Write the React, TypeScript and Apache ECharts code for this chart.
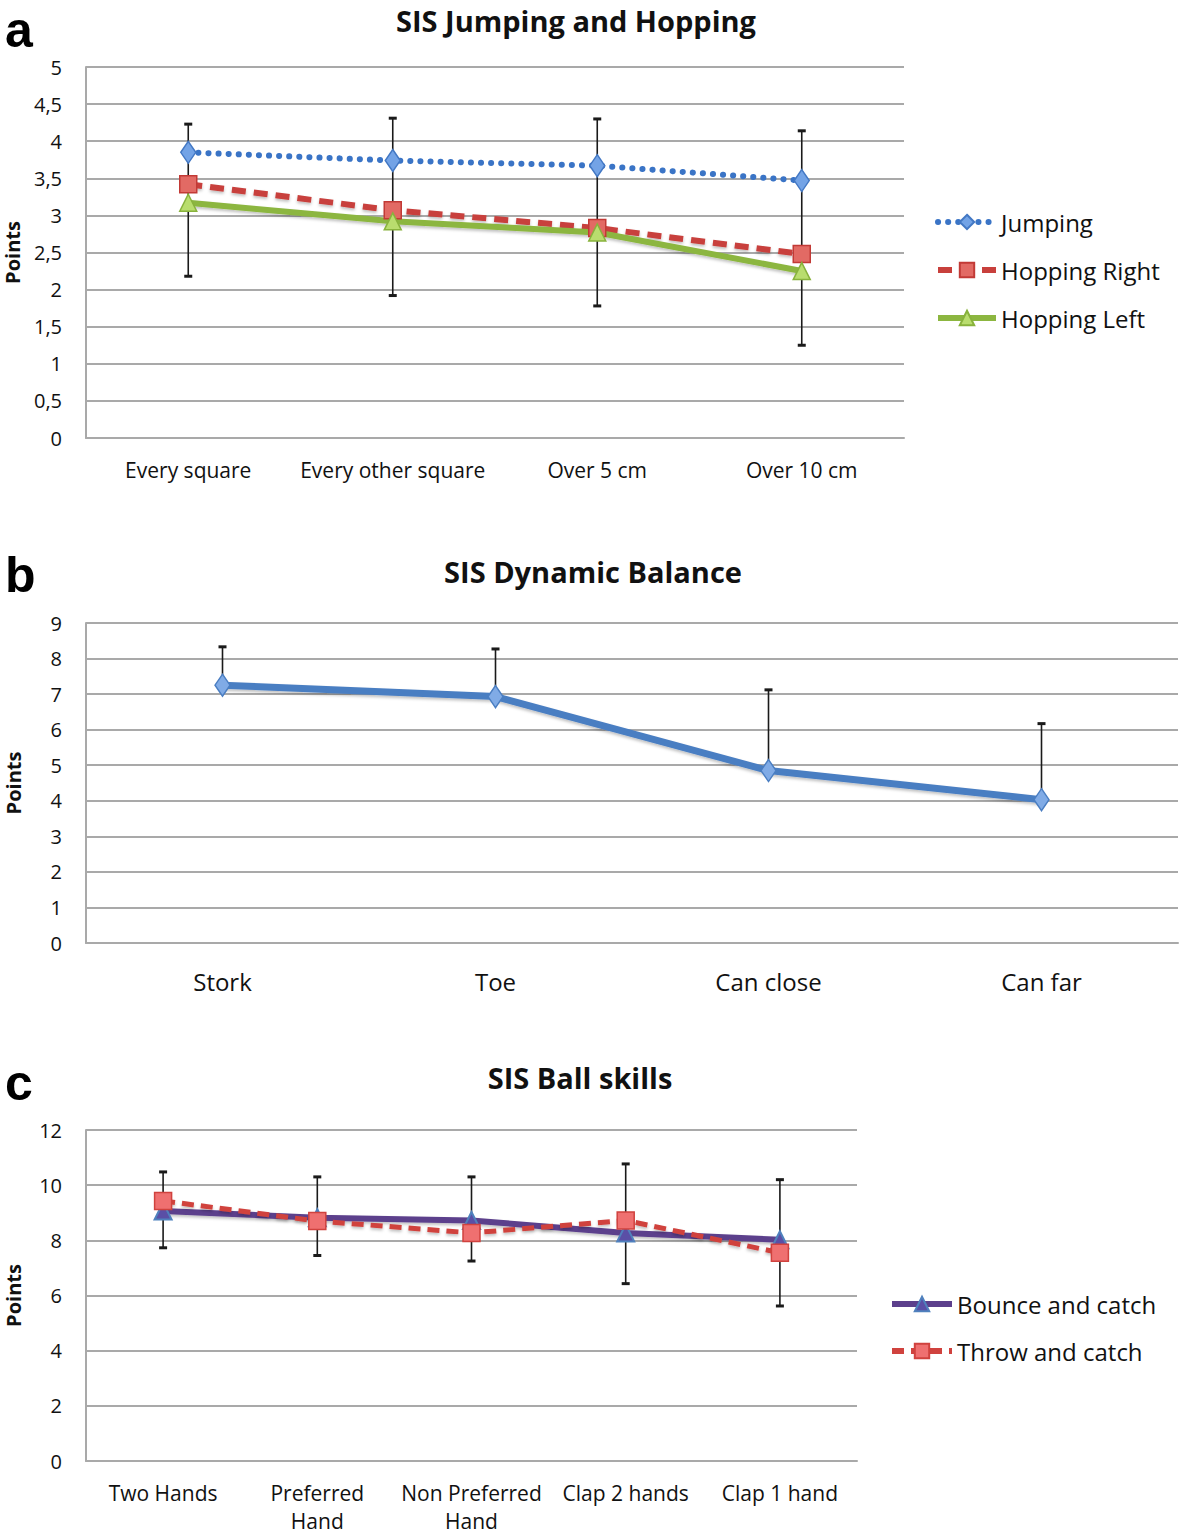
import React, { useEffect, useRef } from "react";
import * as echarts from "echarts";

const catsA = ["Every square", "Every other square", "Over 5 cm", "Over 10 cm"];
const jumping = [3.85, 3.74, 3.67, 3.47];
const hoppingRight = [3.42, 3.07, 2.83, 2.48];
const hoppingLeft = [3.17, 2.92, 2.77, 2.25];
const errLowA = [2.18, 1.92, 1.78, 1.25];
const errHighA = [4.23, 4.31, 4.3, 4.14];

const catsB = ["Stork", "Toe", "Can close", "Can far"];
const balance = [7.25, 6.93, 4.85, 4.03];
const errHighB = [8.33, 8.27, 7.12, 6.17];

const catsC = ["Two Hands", "Preferred\nHand", "Non Preferred\nHand", "Clap 2 hands", "Clap 1 hand"];
const bounce = [9.06, 8.82, 8.72, 8.27, 8.02];
const throwCatch = [9.43, 8.7, 8.27, 8.72, 7.55];
const errLowC = [7.73, 7.45, 7.25, 6.43, 5.62];
const errHighC = [10.48, 10.3, 10.3, 10.77, 10.2];

const FONT = "Open Sans";
const GRID_COLOR = "#a9a9a9";

const comma = (v: number) => String(v).replace(".", ",");

function errSeries(idx: number, lows: number[], highs: number[], capLow: boolean) {
  return {
    type: "custom",
    xAxisIndex: idx,
    yAxisIndex: idx,
    z: 1,
    silent: true,
    data: lows.map((l, k) => [k, l, highs[k]]),
    renderItem: (params: any, api: any) => {
      const x = api.value(0);
      const lo = api.coord([x, api.value(1)]);
      const hi = api.coord([x, api.value(2)]);
      const w = 4;
      const style = { stroke: "#1a1a1a", lineWidth: 1.6 };
      const cap = { stroke: "#1a1a1a", lineWidth: 3 };
      const children: any[] = [
        { type: "line", shape: { x1: lo[0], y1: lo[1], x2: hi[0], y2: hi[1] }, style },
        { type: "line", shape: { x1: hi[0] - w, y1: hi[1], x2: hi[0] + w, y2: hi[1] }, style: cap },
      ];
      if (capLow) {
        children.push({ type: "line", shape: { x1: lo[0] - w, y1: lo[1], x2: lo[0] + w, y2: lo[1] }, style: cap });
      }
      return { type: "group", children };
    },
  };
}

function yAxis(idx: number, max: number, interval: number) {
  return {
    type: "value",
    gridIndex: idx,
    min: 0,
    max,
    interval,
    name: "Points",
    nameLocation: "middle",
    nameGap: 62,
    nameRotate: 90,
    nameTextStyle: { fontFamily: FONT, fontWeight: "bold", fontSize: 20, lineHeight: 22, color: "#111" },
    axisLine: { show: true, lineStyle: { color: GRID_COLOR, width: 2 } },
    axisTick: { show: false },
    axisLabel: { fontFamily: FONT, fontSize: 20, color: "#111", margin: 24, formatter: comma },
    splitLine: { show: true, lineStyle: { color: GRID_COLOR, width: 2 } },
  };
}

function xAxis(idx: number, cats: string[], fontSize: number, margin: number, lineHeight: number) {
  return {
    type: "category",
    gridIndex: idx,
    data: cats,
    boundaryGap: true,
    axisLine: { show: true, lineStyle: { color: GRID_COLOR, width: 2 } },
    axisTick: { show: false },
    axisLabel: { fontFamily: FONT, fontSize, color: "#111", margin, lineHeight, interval: 0 },
  };
}

const shadow = { shadowColor: "rgba(0,0,0,0.25)", shadowBlur: 3, shadowOffsetY: 2 };

const titleStyle = { fontFamily: FONT, fontWeight: "bold", fontSize: 29, lineHeight: 40, color: "#111" };
const letterStyle = { fontFamily: "Liberation Sans", fontWeight: "bold", fontSize: 50, color: "#000", lineHeight: 60 };

export default function App() {
  const ref = useRef<HTMLDivElement>(null);
  useEffect(() => {
    if (!ref.current) return;
    const chart = echarts.init(ref.current, null, { renderer: "svg" });
    const option: any = {
      animation: false,
      backgroundColor: "#fff",
      textStyle: { fontFamily: FONT },
      title: [
        { text: "SIS Jumping and Hopping", left: 576, top: 0, padding: 0, textAlign: "center", textStyle: titleStyle },
        { text: "SIS Dynamic Balance", left: 593, top: 551, padding: 0, textAlign: "center", textStyle: titleStyle },
        { text: "SIS Ball skills", left: 580, top: 1057, padding: 0, textAlign: "center", textStyle: titleStyle },
        { text: "a", left: 5, top: 0, padding: 0, textStyle: letterStyle },
        { text: "b", left: 5, top: 545, padding: 0, textStyle: letterStyle },
        { text: "c", left: 5, top: 1053, padding: 0, textStyle: letterStyle },
      ],
      legend: [
        {
          data: ["Jumping", "Hopping Right", "Hopping Left"],
          orient: "vertical",
          left: 930,
          top: 205,
          itemGap: 24,
          itemWidth: 58,
          itemHeight: 18,
          lineStyle: { width: 6 },
          textStyle: { fontFamily: FONT, fontSize: 24, color: "#111" },
        },
        {
          data: ["Bounce and catch", "Throw and catch"],
          orient: "vertical",
          left: 884,
          top: 1287,
          itemGap: 23,
          itemWidth: 60,
          itemHeight: 18,
          lineStyle: { width: 6 },
          textStyle: { fontFamily: FONT, fontSize: 24, color: "#111" },
        },
      ],
      grid: [
        { left: 86, top: 67, width: 818, height: 371, containLabel: false, outerBoundsMode: "none" },
        { left: 86, top: 623, width: 1092, height: 320, containLabel: false, outerBoundsMode: "none" },
        { left: 86, top: 1130, width: 771, height: 331, containLabel: false, outerBoundsMode: "none" },
      ],
      xAxis: [xAxis(0, catsA, 21, 20, 24), xAxis(1, catsB, 24, 25, 26), xAxis(2, catsC, 21, 18, 28)],
      yAxis: [yAxis(0, 5, 0.5), yAxis(1, 9, 1), yAxis(2, 12, 2)],
      series: [
        errSeries(0, errLowA, errHighA, true),
        {
          name: "Jumping",
          type: "line",
          xAxisIndex: 0,
          yAxisIndex: 0,
          data: jumping,
          symbol: "diamond",
          symbolSize: [15, 22],
          z: 3,
          lineStyle: { color: "#3a74c6", width: 6, type: [0.1, 10], cap: "round" },
          itemStyle: { color: "#73a3e6", borderColor: "#4378c4", borderWidth: 1.5 },
        },
        {
          name: "Hopping Right",
          type: "line",
          xAxisIndex: 0,
          yAxisIndex: 0,
          data: hoppingRight,
          symbol: "rect",
          symbolSize: 17,
          z: 3,
          lineStyle: { color: "#c8403c", width: 6, type: [14, 8], ...shadow },
          itemStyle: { color: "#e26a64", borderColor: "#c23a36", borderWidth: 1.5 },
        },
        {
          name: "Hopping Left",
          type: "line",
          xAxisIndex: 0,
          yAxisIndex: 0,
          data: hoppingLeft,
          symbol: "triangle",
          symbolSize: 17,
          z: 3,
          lineStyle: { color: "#8cb640", width: 6, ...shadow },
          itemStyle: { color: "#b9dd6e", borderColor: "#88b23c", borderWidth: 1.5 },
        },
        errSeries(1, balance, errHighB, false),
        {
          name: "Dynamic Balance",
          type: "line",
          xAxisIndex: 1,
          yAxisIndex: 1,
          data: balance,
          symbol: "diamond",
          symbolSize: [15, 22],
          z: 3,
          lineStyle: { color: "#4a7ec2", width: 7, ...shadow },
          itemStyle: { color: "#80abe6", borderColor: "#4a7ec2", borderWidth: 1.5 },
        },
        errSeries(2, errLowC, errHighC, true),
        {
          name: "Bounce and catch",
          type: "line",
          xAxisIndex: 2,
          yAxisIndex: 2,
          data: bounce,
          symbol: "triangle",
          symbolSize: 17,
          z: 3,
          lineStyle: { color: "#5c3f8c", width: 6, ...shadow },
          itemStyle: { color: "#5a4fa6", borderColor: "#4f81bd", borderWidth: 2 },
        },
        {
          name: "Throw and catch",
          type: "line",
          xAxisIndex: 2,
          yAxisIndex: 2,
          data: throwCatch,
          symbol: "rect",
          symbolSize: 17,
          z: 4,
          lineStyle: { color: "#d0423e", width: 5, type: [12, 7], ...shadow },
          itemStyle: { color: "#ef7070", borderColor: "#d0423e", borderWidth: 1.5 },
        },
      ],
    };
    chart.setOption(option);
    return () => chart.dispose();
  }, []);
  return (
    <div
      ref={ref}
      style={{ position: "fixed", left: 0, top: 0, width: 1181, height: 1536, background: "#fff" }}
    />
  );
}
